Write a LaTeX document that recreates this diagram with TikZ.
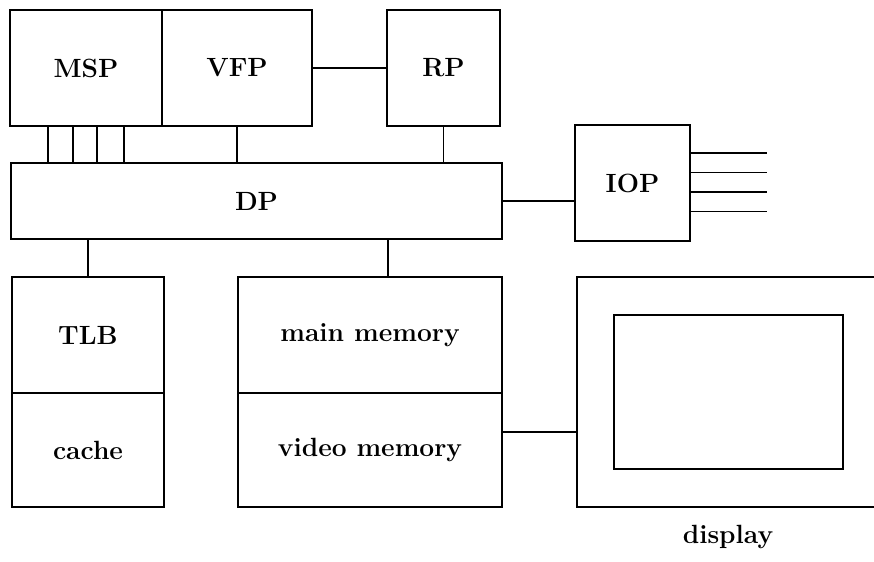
\documentclass[tikz,border=0pt]{standalone}
\usetikzlibrary{calc}

\begin{document}
\begin{tikzpicture}[line width=1pt,
	unit box/.style={draw,font=\fontsize{15}{17}\selectfont\bfseries,inner sep=0pt},
	plain box/.style={draw,inner sep=0pt}]
	
	\useasboundingbox (0,0) rectangle (17.48,-11.22);
	\clip (0,0) rectangle (17.48,-11.22);
	
	\node[unit box,minimum width=3.04cm,minimum height=2.32cm] (MSP) at (1.72,-1.36) {MSP};
	\node[unit box,minimum width=3.0cm,minimum height=2.32cm] (VFP) at (4.74,-1.36) {VFP};
	\node[unit box,minimum width=2.26cm,minimum height=2.32cm] (RP) at (8.87,-1.36) {RP};
	\node[unit box,minimum width=9.82cm,minimum height=1.52cm] (DP) at (5.13,-4.02) {DP};
	\node[unit box,minimum width=2.3cm,minimum height=2.32cm] (IOP) at (12.65,-3.66) {IOP};
	\node[unit box,minimum width=3.04cm,minimum height=2.32cm] (TLB) at (1.76,-6.70) {TLB};
	\node[unit box,minimum width=3.04cm,minimum height=2.28cm] (cache) at (1.76,-9.0) {cache};
	\node[unit box,minimum width=5.28cm,minimum height=2.32cm] (mainmem) at (7.4,-6.70) {main memory};
	\node[unit box,minimum width=5.28cm,minimum height=2.28cm] (vidmem) at (7.4,-9.0) {video memory};
	\node[plain box,minimum width=6.02cm,minimum height=4.6cm] (display) at (14.55,-7.84) {};
	\node[plain box,minimum width=4.58cm,minimum height=3.08cm] (screen) at (14.57,-7.84) {};
	\node[font=\fontsize{15}{17}\selectfont\bfseries] (displabel) at (14.56,-10.74) {display};
	
	% buses from MSP into DP
	\foreach \d in {0.78,1.28,1.76,2.3}
		\draw (MSP.south west) ++(\d,0) coordinate (tap) -- (tap |- DP.north);
	
	\draw (VFP.east) -- (RP.west);
	\draw (VFP.south) -- (VFP.south |- DP.north);
	\draw (RP.south) -- (RP.south |- DP.north);
	\draw (DP.east) -- (DP.east -| IOP.west);
	\draw (TLB.north) -- (TLB.north |- DP.south);
	\draw ([xshift=0.36cm]mainmem.north) -- ([xshift=0.36cm]mainmem.north |- DP.south);
	\draw ([yshift=0.36cm]vidmem.east) -- ([yshift=0.36cm]vidmem.east -| display.west);
	
	% io lines
	\foreach \d in {0.6,0.21,-0.18,-0.57}
		\draw ([yshift=\d cm]IOP.east) -- ++(1.52,0);
\end{tikzpicture}
\end{document}
